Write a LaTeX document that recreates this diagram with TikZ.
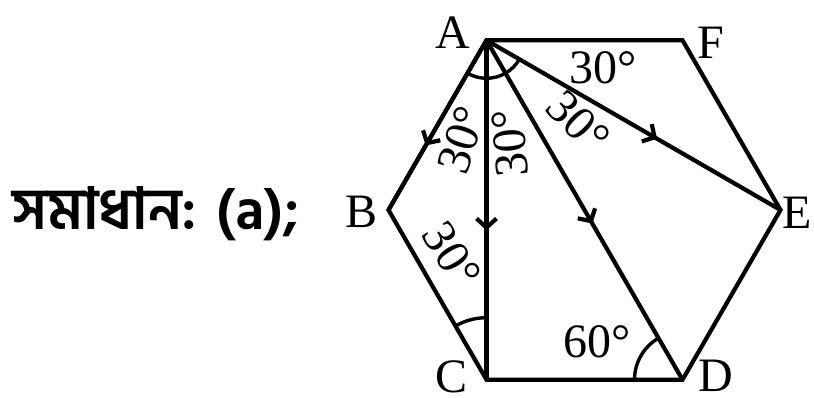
\documentclass[tikz,border=0pt]{standalone}
\usepackage{fontspec}
\setmainfont{Liberation Serif}
\newfontfamily\bnfont[Script=Bengali]{Hind Siliguri}
\usetikzlibrary{arrows.meta,angles,decorations.markings}

\begin{document}
\begin{tikzpicture}[
  x=1pt,y=1pt,
  edge/.style={line width=4.2pt,line join=miter},
  ray/.style={edge,postaction={decorate},
    decoration={markings,mark=at position #1 with {\arrow{Straight Barb[length=9pt,width=20pt]}}}},
  lbl/.style={font=\fontsize{48}{50}\selectfont,inner sep=0pt},
  ang/.style={draw,line width=3.4pt,angle radius=#1}
]
  \useasboundingbox (0,0) rectangle (814,398);
  % hexagon corners
  \coordinate (A) at (486.5,357.7);
  \coordinate (F) at (682.5,357.7);
  \coordinate (E) at (780.5,188);
  \coordinate (D) at (682.5,18.3);
  \coordinate (C) at (486.5,18.3);
  \coordinate (B) at (388.5,188);

  \draw[edge] (A) -- (F) -- (E) -- (D) -- (C) -- (B) -- cycle;
  \draw[ray=0.62] (A) -- (B);
  \draw[ray=0.56] (A) -- (C);
  \draw[ray=0.54] (A) -- (D);
  \draw[ray=0.58] (A) -- (E);

  % angle marks
  \pic[ang=38] {angle=B--A--E};
  \pic[ang=62] {angle=A--C--B};
  \pic[ang=48] {angle=A--D--C};

  % corner letters
  \node[lbl] (lA) at (453,365) {A};
  \node[lbl] (lF) at (711,355) {F};
  \node[lbl] (lE) at (797,185) {E};
  \node[lbl] (lD) at (716,22) {D};
  \node[lbl] (lC) at (452,21) {C};
  \node[lbl] (lB) at (362,186) {B};

  % angle values
  \node[lbl] (tAF) at (603,330) {30°};
  \node[lbl,rotate=72] (tAB) at (462,258) {30°};
  \node[lbl,rotate=95] (tAC) at (510,255) {30°};
  \node[lbl,rotate=-45] (tAD) at (578,276) {30°};
  \node[lbl,rotate=-58] (tBC) at (452,143) {30°};
  \node[lbl] (tD) at (597,56) {60°};

  \node[anchor=base west,inner sep=0pt,font=\bnfont\bfseries\fontsize{58}{60}\selectfont] (sol) at (12,168) {সমাধান: (a);};
\end{tikzpicture}
\end{document}
